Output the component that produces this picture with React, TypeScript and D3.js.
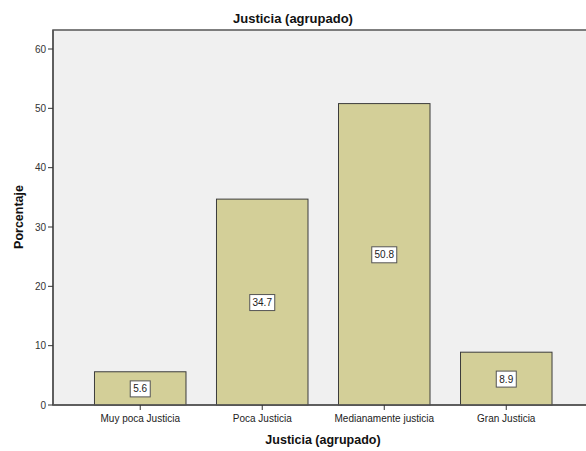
import React from "react";
import * as d3 from "d3";

const categories = ["Muy poca Justicia", "Poca Justicia", "Medianamente justicia", "Gran Justicia"];
const values = [5.6, 34.7, 50.8, 8.9];
const yTicks = [0, 10, 20, 30, 40, 50, 60];

const W = 586, H = 451;
const left = 53, top = 30, bottom = 405, right = 593.5;

export default function App() {
  const x = d3.scaleBand<string>().domain(categories).range([left, right]).paddingInner(0.25).paddingOuter(0.34);
  const y = d3.scaleLinear().domain([0, 60]).range([bottom, 49]);
  const font = "Arial, 'Liberation Sans', sans-serif";
  return (
    <svg width={W} height={H} style={{ position: "absolute", left: 0, top: 0 }} fontFamily={font}>
      <rect x={0} y={0} width={W} height={H} fill="#ffffff" />
      <rect x={left} y={top} width={right - left} height={bottom - top} fill="#f0f0f0" stroke="#555" strokeWidth={1.5} />
      {categories.map((c, i) => {
        const bx = x(c)!;
        const bw = x.bandwidth();
        const yt = y(values[i]);
        const cy = y(values[i] / 2);
        const label = values[i].toFixed(1);
        const lw = label.length * 5 + 5;
        return (
          <g key={c}>
            <rect x={bx} y={yt} width={bw} height={bottom - yt} fill="#d3cf98" stroke="#3c3c3c" strokeWidth={1} />
            <rect x={bx + bw / 2 - lw / 2} y={cy - 7.5} width={lw} height={16} fill="#ffffff" stroke="#555" strokeWidth={1} />
            <text x={bx + bw / 2} y={cy + 4} textAnchor="middle" fontSize={10} fill="#222">{label}</text>
          </g>
        );
      })}
      <line x1={left} x2={left} y1={top} y2={bottom} stroke="#555" strokeWidth={1.5} />
      <line x1={left} x2={right} y1={bottom} y2={bottom} stroke="#555" strokeWidth={1.5} />
      {yTicks.map(t => (
        <g key={t}>
          <line x1={left - 5} x2={left} y1={y(t)} y2={y(t)} stroke="#333" strokeWidth={1} />
          <text x={left - 7} y={y(t) + 3.5} textAnchor="end" fontSize={10} fill="#333">{t}</text>
        </g>
      ))}
      {categories.map(c => {
        const cx = x(c)! + x.bandwidth() / 2;
        return (
          <g key={c}>
            <line x1={cx} x2={cx} y1={bottom} y2={bottom + 5} stroke="#333" strokeWidth={1} />
            <text x={cx} y={bottom + 17} textAnchor="middle" fontSize={10} fill="#222">{c}</text>
          </g>
        );
      })}
      <text x={293} y={23} textAnchor="middle" fontSize={13} fontWeight="bold" fill="#111">Justicia (agrupado)</text>
      <text x={323} y={444} textAnchor="middle" fontSize={12.5} fontWeight="bold" fill="#111">Justicia (agrupado)</text>
      <text transform={`translate(23,${217}) rotate(-90)`} textAnchor="middle" fontSize={12.5} fontWeight="bold" fill="#111">Porcentaje</text>
    </svg>
  );
}
